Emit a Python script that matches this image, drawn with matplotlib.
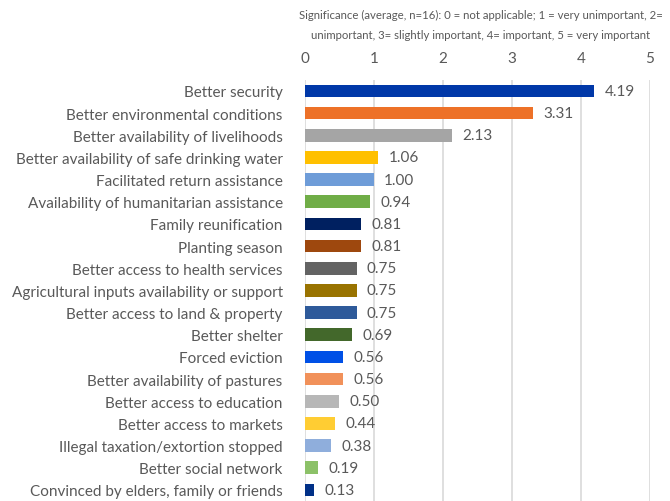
import matplotlib
matplotlib.use('Agg')
import matplotlib.pyplot as plt

categories = [
    'Better security', 'Better environmental conditions', 'Better availability of livelihoods',
    'Better availability of safe drinking water', 'Facilitated return assistance',
    'Availability of humanitarian assistance', 'Family reunification', 'Planting season',
    'Better access to health services', 'Agricultural inputs availability or support',
    'Better access to land & property', 'Better shelter', 'Forced eviction',
    'Better availability of pastures', 'Better access to education', 'Better access to markets',
    'Illegal taxation/extortion stopped', 'Better social network',
    'Convinced by elders, family or friends',
]
values = [4.19, 3.31, 2.13, 1.06, 1.00, 0.94, 0.81, 0.81, 0.75, 0.75, 0.75, 0.69, 0.56, 0.56,
          0.50, 0.44, 0.38, 0.19, 0.13]
colors = ['#0038A8', '#ED7128', '#A5A5A5', '#FFC000', '#6E9CD8', '#70AD47', '#002060', '#9E480E',
          '#636363', '#997300', '#2E5A9A', '#43682B', '#0050E6', '#F1915A', '#B7B7B7', '#FFCD33',
          '#8FAEDC', '#8CC168', '#003087']
ticks = [0, 1, 2, 3, 4, 5]
title = ('Significance (average, n=16): 0 = not applicable; 1 = very unimportant, 2=\n'
         'unimportant, 3= slightly important, 4= important, 5 = very important')

plt.rcParams['font.family'] = ['Lato', 'DejaVu Sans']
txt = '#595959'

fig = plt.figure(figsize=(6.7, 5.02), dpi=100)
ax = fig.add_axes([0.455, 0.0, 0.515, 0.839])

y = list(range(len(categories)))
ax.barh(y, values, height=0.57, color=colors, zorder=3)
for yi, v in zip(y, values):
    ax.text(v + 0.15, yi, f'{v:.2f}', va='center', ha='left', fontsize=11, color=txt)

ax.set_ylim(len(categories) - 0.5, -0.5)
ax.set_xlim(0, 5)
ax.set_yticks(y)
ax.set_yticklabels(categories, fontsize=11, color=txt)
ax.set_xticks(ticks)
ax.set_xticklabels([str(t) for t in ticks], fontsize=11, color=txt)
ax.xaxis.tick_top()
ax.tick_params(axis='x', length=0, pad=11)
ax.tick_params(axis='y', length=0, pad=16)
ax.grid(axis='x', color='#D9D9D9', linewidth=1.2, zorder=0)
for s in ax.spines.values():
    s.set_visible(False)

fig.text(0.718, 0.98, title, ha='center', va='top', fontsize=8.2, color=txt, linespacing=1.95)

fig.savefig('out.png', dpi=100)
